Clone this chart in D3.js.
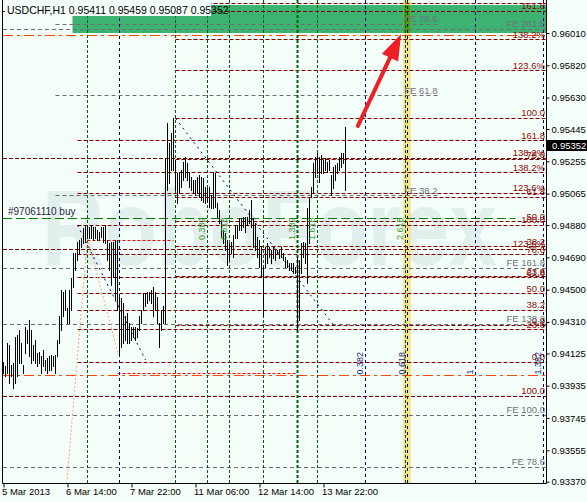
<!DOCTYPE html>
<html>
<head>
<meta charset="utf-8">
<script src="https://cdn.jsdelivr.net/npm/d3@7"></script>
<style>
  body { margin: 0; background: #f5fff9; }
  text { font-family: "Liberation Sans", Arial, sans-serif; }
</style>
</head>
<body>
<div id="chart"></div>
<script>
// H1 bars, high / low (bar 0 = first visible bar)
const highs = [
  0.94077, 0.94048, 0.94185, 0.94175, 0.94058, 0.94067, 0.94224, 0.94234, 0.94263, 0.94185,
  0.94058, 0.94283, 0.94263, 0.94322, 0.94263, 0.94175, 0.94205, 0.94126, 0.94136, 0.94107,
  0.94146, 0.94087, 0.94097, 0.94107, 0.94116, 0.94107, 0.94116, 0.94205, 0.94342, 0.94499,
  0.94489, 0.94499, 0.94391, 0.94499, 0.94567, 0.94714, 0.94714, 0.94783, 0.94793, 0.94802,
  0.94861, 0.94881, 0.94881, 0.94871, 0.94881, 0.94871, 0.94871, 0.94851, 0.94842, 0.94871,
  0.94871, 0.94881, 0.94793, 0.94773, 0.94783, 0.94783, 0.94793, 0.94793, 0.94459, 0.94450,
  0.94420, 0.94342, 0.94361, 0.94303, 0.94283, 0.94283, 0.94283, 0.94273, 0.94342, 0.94381,
  0.94479, 0.94479, 0.94489, 0.94489, 0.94499, 0.94518, 0.94489, 0.94459, 0.94303, 0.94381,
  0.94401, 0.95273, 0.95479, 0.95361, 0.95420, 0.95508, 0.95263, 0.95185, 0.95194, 0.95204,
  0.95253, 0.95283, 0.95243, 0.95194, 0.95165, 0.95145, 0.95145, 0.95165, 0.95175, 0.95165,
  0.95155, 0.95106, 0.95096, 0.95106, 0.95057, 0.95194, 0.95185, 0.95008, 0.94969, 0.94910,
  0.94851, 0.94832, 0.94793, 0.94773, 0.94783, 0.94822, 0.94881, 0.94881, 0.94920, 0.94920,
  0.94930, 0.94930, 0.94930, 0.94969, 0.95028, 0.94920, 0.94891, 0.94812, 0.94793, 0.94753,
  0.94636, 0.94753, 0.94773, 0.94753, 0.94734, 0.94753, 0.94734, 0.94734, 0.94734, 0.94753,
  0.94714, 0.94695, 0.94675, 0.94655, 0.94655, 0.94655, 0.94636, 0.94695, 0.94675, 0.94773,
  0.94783, 0.94773, 0.94979, 0.95038, 0.95106, 0.95243, 0.95283, 0.95302, 0.95283, 0.95292,
  0.95263, 0.95273, 0.95253, 0.95263, 0.95175, 0.95224, 0.95234, 0.95243, 0.95283, 0.95302,
  0.95302, 0.95459
];
const lows = [
  0.94009, 0.93989, 0.94009, 0.93950, 0.93989, 0.93920, 0.93950, 0.93989, 0.94067, 0.94067,
  0.94009, 0.94126, 0.94185, 0.94107, 0.94067, 0.94087, 0.94067, 0.94048, 0.94067, 0.94009,
  0.94048, 0.94028, 0.94009, 0.94028, 0.94028, 0.94048, 0.94009, 0.94107, 0.94185, 0.94263,
  0.94342, 0.94381, 0.94303, 0.94303, 0.94381, 0.94518, 0.94616, 0.94675, 0.94714, 0.94753,
  0.94773, 0.94783, 0.94802, 0.94802, 0.94802, 0.94793, 0.94802, 0.94793, 0.94793, 0.94812,
  0.94783, 0.94773, 0.94675, 0.94616, 0.94528, 0.94577, 0.94440, 0.94381, 0.94107, 0.94165,
  0.94185, 0.94205, 0.94185, 0.94185, 0.94205, 0.94224, 0.94205, 0.94224, 0.94263, 0.94303,
  0.94381, 0.94401, 0.94420, 0.94440, 0.94420, 0.94342, 0.94381, 0.94303, 0.94165, 0.94263,
  0.94303, 0.94303, 0.95087, 0.95126, 0.95204, 0.95204, 0.95087, 0.95008, 0.95067, 0.95106,
  0.95145, 0.95165, 0.95145, 0.95106, 0.95087, 0.95067, 0.95057, 0.95067, 0.95047, 0.95028,
  0.95018, 0.95008, 0.95018, 0.94989, 0.94979, 0.94979, 0.94989, 0.94930, 0.94891, 0.94812,
  0.94773, 0.94734, 0.94646, 0.94675, 0.94714, 0.94695, 0.94802, 0.94802, 0.94851, 0.94851,
  0.94871, 0.94842, 0.94881, 0.94891, 0.94871, 0.94753, 0.94734, 0.94695, 0.94636, 0.94577,
  0.94342, 0.94636, 0.94655, 0.94695, 0.94655, 0.94685, 0.94675, 0.94714, 0.94685, 0.94695,
  0.94675, 0.94636, 0.94636, 0.94616, 0.94616, 0.94597, 0.94597, 0.94263, 0.94322, 0.94597,
  0.94695, 0.94655, 0.94538, 0.94773, 0.95047, 0.95067, 0.95165, 0.95185, 0.95136, 0.95185,
  0.95185, 0.95204, 0.95194, 0.95204, 0.95057, 0.95096, 0.95145, 0.95185, 0.95204, 0.95224,
  0.95243, 0.95087
];
const lastBar = { open: 0.95411, high: 0.95459, low: 0.95087, close: 0.95352 };

// axes
const priceTicks = [0.96010, 0.95820, 0.95630, 0.95445, 0.95255, 0.95065, 0.94880,
  0.94690, 0.94500, 0.94310, 0.94125, 0.93935, 0.93745, 0.93555, 0.93370];
const timeTicks = [0, 32, 64, 96, 128, 160];
const timeLabels = ["5 Mar 2013", "6 Mar 14:00", "7 Mar 22:00", "11 Mar 06:00", "12 Mar 14:00", "13 Mar 22:00"];

// fibonacci retracement levels: price, start bar, label
const fibLevels = [
  [0.96184, 42, ""], [0.96139, -1, "161.8"], [0.95969, 86, "138.2%"], [0.95788, 86, "123.6%"],
  [0.95508, 86, "100.0"], [0.95375, 37, "161.8"], [0.95273, -1, "138.2%"], [0.95264, 86, "78.6"],
  [0.95188, 37, "138.2%"], [0.95067, 37, "123.6%"], [0.95043, 86, "61.8"], [0.94898, 86, "50.0"],
  [0.94880, 37, "100.0"], [0.94753, 86, "38.2"], [0.94737, -1, "123.6%"], [0.94704, 37, "78.6"],
  [0.94576, 86, "23.6"], [0.94569, 37, "61.8"], [0.94477, 37, "50.0"], [0.94380, 37, "38.2"],
  [0.94289, 86, "0.0"], [0.94263, 37, "23.6"], [0.94073, 37, "0.0"], [0.93874, -1, "100.0"]
];
// fibonacci expansions (grey)
const feShort = [[0.96061, "FE 78.6"], [0.95641, "FE 61.8"], [0.95051, "FE 38.2"]];
const feShortBars = [26, 217];
const feLong = [[0.96032, "FE 261.8"], [0.94626, "FE 161.8"], [0.94296, "FE 138.2"],
  [0.93762, "FE 100.0"], [0.93455, "FE 78.6"]];

// time zones
const greenTimes = [42, 86, 102, 113, 130, 147, 157, 201];
const greenTimeLabels = [[102, "0.382"], [113, "0.618"], [147, "1.382"], [157, "1.618"], [201, "2.618"]];
const navyTimes = [58, 147, 181, 202, 236, 270];
const navyTimeLabels = [[181, "0.382"], [202, "0.618"], [236, "1"], [270, "1.382"]];

// other objects
const orangeLevels = [0.95994, 0.93995];
const redSegments = [[0.94792, 42, 85], [0.94008, 57, 147]];
const buyLevel = 0.94920, buyEnd = 256;
const navyDiagonals = [[[86, 0.95508], [165, 0.94292]], [[37, 0.94880], [71, 0.94086]]];
const salmonDiagonals = [[[42, 0.94802], [57.5, 0.94115]], [[42, 0.94802], [31.6, 0.93356]]];
const greenZone = { bar: 34.5, top: 0.96175, bottom: 0.96010 };
const yellowBand = [199.9, 203.6];
const arrowFrom = [177.2, 0.95463], arrowTo = [198.8, 0.96004];

const width = 587, height = 502;
const pLeft = 3, pRight = 547, pTop = 0, pBottom = 484;

const svg = d3.select("#chart").append("svg")
    .attr("width", width)
    .attr("height", height)
    .style("display", "block");

svg.append("rect").attr("width", width).attr("height", height).attr("fill", "#f5fff9");

const x = d3.scaleLinear().domain([0, 272]).range([3.5, 547.5]);
const y = d3.scaleLinear().domain([0.93370, 0.96010]).range([481.7, 33]);

svg.append("clipPath").attr("id", "plot")
  .append("rect").attr("x", pLeft).attr("y", pTop).attr("width", pRight - pLeft).attr("height", pBottom - pTop);

const g = svg.append("g").attr("clip-path", "url(#plot)");

// watermark
g.append("text")
    .attr("x", 42).attr("y", 265)
    .attr("font-size", 108).attr("font-weight", "bold")
    .attr("textLength", 455).attr("lengthAdjust", "spacingAndGlyphs")
    .attr("fill", "#e3efec")
    .text("RoboForex");

// green zone and yellow band
g.append("rect")
    .attr("x", x(greenZone.bar)).attr("y", y(greenZone.top))
    .attr("width", pRight - x(greenZone.bar)).attr("height", y(greenZone.bottom) - y(greenZone.top))
    .attr("fill", "#3cb371");
g.append("rect")
    .attr("x", x(yellowBand[0])).attr("y", pTop)
    .attr("width", x(yellowBand[1]) - x(yellowBand[0])).attr("height", pBottom - pTop)
    .attr("fill", "#f3e38a");
g.append("rect")
    .attr("x", x(yellowBand[0])).attr("y", y(greenZone.top))
    .attr("width", x(yellowBand[1]) - x(yellowBand[0])).attr("height", y(greenZone.bottom) - y(greenZone.top))
    .attr("fill", "#46a012");

const crisp = v => Math.round(v - 0.5) + 0.5;

// horizontal lines
function hline(price, x0, x1, color, dash, w) {
    g.append("line")
        .attr("x1", x0).attr("x2", x1)
        .attr("y1", crisp(y(price))).attr("y2", crisp(y(price)))
        .attr("stroke", color).attr("stroke-width", w || 1)
        .attr("stroke-dasharray", dash);
}

fibLevels.forEach(d => hline(d[0], Math.max(pLeft, x(d[1])), pRight, "#800000", "4,2"));
feShort.forEach(d => hline(d[0], x(feShortBars[0]), x(feShortBars[1]), "#6f6f6f", "4,3"));
feLong.forEach(d => hline(d[0], pLeft, pRight, "#6f6f6f", "4,3"));
orangeLevels.forEach(p => hline(p, pLeft, pRight, "#ff4500", "10,4,3,4"));
redSegments.forEach(d => hline(d[0], x(d[1]), x(d[2]), "#ff0000", "3,2"));
hline(buyLevel, pLeft, x(buyEnd), "#008000", "9,4");

// vertical lines
const both = greenTimes.filter(t => navyTimes.includes(t));
greenTimes.forEach(t => {
    g.append("line")
        .attr("x1", x(t)).attr("x2", x(t)).attr("y1", pTop).attr("y2", pBottom)
        .attr("stroke", "#006400").attr("stroke-width", both.includes(t) ? 2 : 1)
        .attr("stroke-dasharray", "3,2");
});
navyTimes.filter(t => !both.includes(t)).forEach(t => {
    g.append("line")
        .attr("x1", x(t)).attr("x2", x(t)).attr("y1", pTop).attr("y2", pBottom)
        .attr("stroke", "#000080").attr("stroke-dasharray", "3,3");
});

// diagonal lines
const lineGen = d3.line().x(d => x(d[0])).y(d => y(d[1]));
navyDiagonals.forEach(d => g.append("path").attr("d", lineGen(d))
    .attr("stroke", "#000080").attr("fill", "none").attr("stroke-dasharray", "2,4"));
salmonDiagonals.forEach(d => g.append("path").attr("d", lineGen(d))
    .attr("stroke", "#ffa07a").attr("fill", "none").attr("stroke-dasharray", "2,2"));

// price bars
g.selectAll(".bar")
    .data(highs)
    .enter()
    .append("line")
    .attr("class", "bar")
    .attr("x1", (d, i) => x(i)).attr("x2", (d, i) => x(i))
    .attr("y1", d => Math.round(y(d)))
    .attr("y2", (d, i) => Math.round(y(lows[i])) + 1)
    .attr("stroke", "#000");

// level labels
const labels = g.append("g").attr("font-size", 9.5).attr("text-anchor", "end");
fibLevels.filter(d => d[2] !== "").forEach(d => {
    labels.append("text").attr("x", pRight - 2).attr("y", y(d[0]) - 2)
        .attr("fill", "#8b0a0a").text(d[2]);
});
feLong.forEach(d => {
    labels.append("text").attr("x", pRight - 2).attr("y", y(d[0]) - 2)
        .attr("fill", "#707080").text(d[1]);
});
feShort.forEach(d => {
    labels.append("text").attr("x", x(feShortBars[1])).attr("y", y(d[0]) - 2)
        .attr("fill", "#707080").text(d[1]);
});

// time zone labels
greenTimeLabels.forEach(d => {
    g.append("text")
        .attr("transform", "translate(" + (x(d[0]) - 3) + "," + y(0.94792) + ") rotate(-90)")
        .attr("font-size", 9).attr("fill", "#3a9a3a").text(d[1]);
});
navyTimeLabels.forEach(d => {
    g.append("text")
        .attr("transform", "translate(" + (x(d[0]) - 3) + "," + (y(orangeLevels[1]) - 1) + ") rotate(-90)")
        .attr("font-size", 9).attr("fill", "#20207a").text(d[1]);
});

// order label
g.append("text").attr("x", 8).attr("y", y(buyLevel) - 3)
    .attr("font-size", 10).attr("fill", "#1e1e3c").text("#97061110 buy");

// arrow
const ax0 = x(arrowFrom[0]), ay0 = y(arrowFrom[1]);
const ax1 = x(arrowTo[0]), ay1 = y(arrowTo[1]);
const len = Math.hypot(ax1 - ax0, ay1 - ay0);
const ux = (ax1 - ax0) / len, uy = (ay1 - ay0) / len;
const headLen = 26, headW = 9;
const bx = ax1 - ux * headLen, by = ay1 - uy * headLen;
g.append("line")
    .attr("x1", ax0).attr("y1", ay0).attr("x2", bx).attr("y2", by)
    .attr("stroke", "#ee1f26").attr("stroke-width", 4).attr("stroke-linecap", "round");
g.append("path")
    .attr("d", "M" + ax1 + "," + ay1 +
        "L" + (bx - uy * headW) + "," + (by + ux * headW) +
        "L" + (bx + uy * headW) + "," + (by - ux * headW) + "Z")
    .attr("fill", "#ee1f26");

// title
svg.append("rect").attr("x", 5).attr("y", 0).attr("width", 206).attr("height", 16).attr("fill", "#f5fff9");
svg.append("text").attr("x", 7).attr("y", 14).attr("font-size", 10.5).attr("fill", "#000")
    .text("USDCHF,H1  " + [lastBar.open, lastBar.high, lastBar.low, lastBar.close].map(d3.format(".5f")).join(" "));

// frame
svg.append("path")
    .attr("d", "M" + (pLeft - 0.5) + "," + pTop + "V" + (pBottom - 0.5) + "H" + (pRight - 0.5) + "V" + pTop)
    .attr("fill", "none").attr("stroke", "#000");

// axes
const yAxis = svg.append("g")
    .attr("transform", "translate(" + (pRight - 0.5) + ",0)")
    .call(d3.axisRight(y).tickValues(priceTicks).tickFormat(d3.format(".5f")).tickSize(3).tickSizeOuter(0));
yAxis.select(".domain").remove();
yAxis.selectAll("text").attr("font-size", 9.5).attr("font-family", "Liberation Sans, Arial, sans-serif").attr("x", 5);

const xAxis = svg.append("g")
    .attr("transform", "translate(0," + (pBottom - 0.5) + ")")
    .call(d3.axisBottom(x).tickValues(timeTicks).tickFormat((d, i) => timeLabels[i]).tickSize(4).tickSizeOuter(0));
xAxis.select(".domain").remove();
xAxis.selectAll("text").attr("font-size", 9.5).attr("font-family", "Liberation Sans, Arial, sans-serif")
    .attr("text-anchor", "start").attr("dx", -2).attr("y", 5);

// current price box
svg.append("rect")
    .attr("x", pRight).attr("y", Math.round(y(lastBar.close)) - 5)
    .attr("width", width - pRight).attr("height", 11).attr("fill", "#000");
svg.append("text")
    .attr("x", pRight + 5).attr("y", Math.round(y(lastBar.close)) + 4)
    .attr("font-size", 9.5).attr("fill", "#fff")
    .text(d3.format(".5f")(lastBar.close));
</script>
</body>
</html>
